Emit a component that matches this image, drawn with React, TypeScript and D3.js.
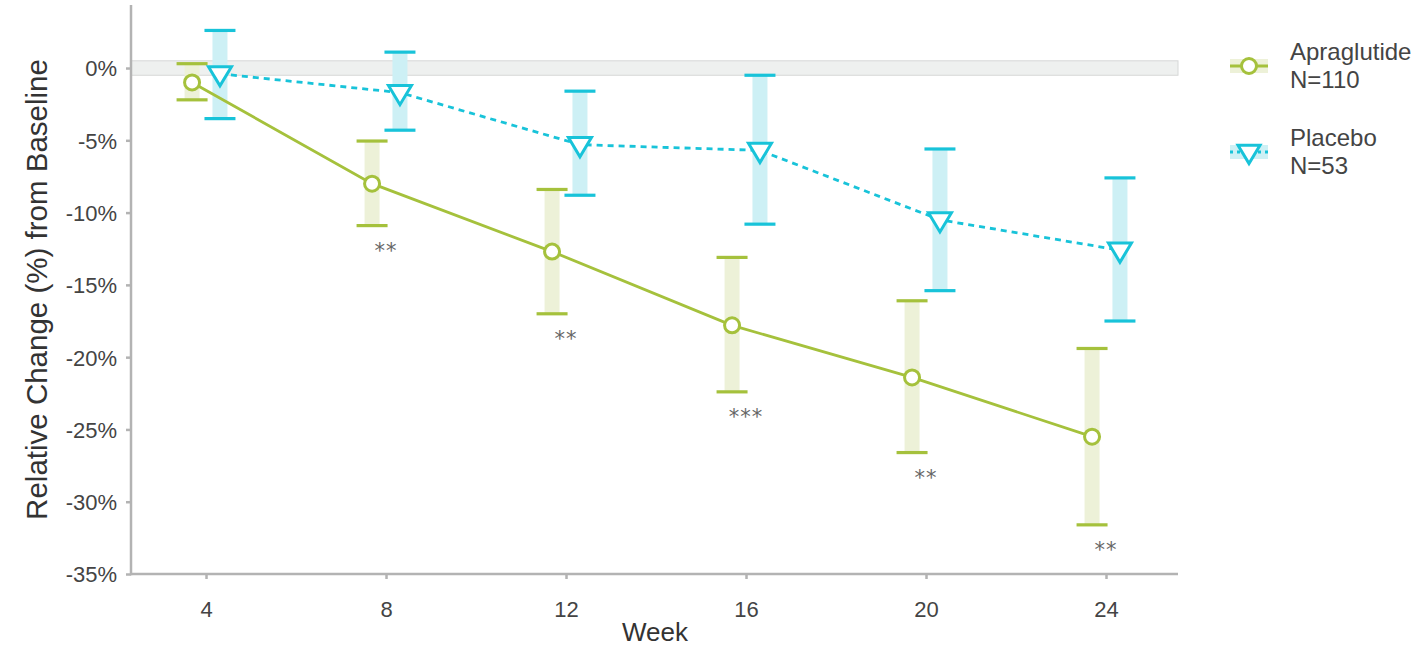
import React, { useEffect, useRef } from "react";
import * as d3 from "d3";

const weeks = [4, 8, 12, 16, 20, 24];
const apraMean = [-1.0, -8.0, -12.7, -17.8, -21.4, -25.5];
const apraHigh = [0.3, -5.05, -8.4, -13.1, -16.1, -19.4];
const apraLow = [-2.2, -10.9, -17.0, -22.4, -26.6, -31.6];
const placMean = [-0.4, -1.7, -5.3, -5.7, -10.5, -12.6];
const placHigh = [2.6, 1.1, -1.6, -0.5, -5.6, -7.6];
const placLow = [-3.5, -4.3, -8.8, -10.8, -15.4, -17.5];
const stars = ["", "**", "**", "***", "**", "**"];
const yTicks = [0, -5, -10, -15, -20, -25, -30, -35];

const GREEN = "#a5c13c";
const GREEN_FILL = "#edf1d8";
const CYAN = "#18c3d9";
const CYAN_FILL = "#cdf0f5";
const FONT = "'Liberation Sans', Arial, sans-serif";

export default function App() {
  const ref = useRef<SVGSVGElement>(null);

  useEffect(() => {
    const svg = d3.select(ref.current);
    svg.selectAll("*").remove();

    const left = 131, right = 1178, top = 5, bottom = 574;
    const x = d3.scaleLinear().domain([2.333, 25.6]).range([left, right]);
    const y = d3.scaleLinear().domain([-35, 4.36]).range([bottom, top]);
    const dodge = 0.31;

    // reference band around 0
    svg.append("rect")
      .attr("x", left).attr("y", y(0.5))
      .attr("width", right - left).attr("height", y(-0.5) - y(0.5))
      .attr("fill", "#eef0ef").attr("stroke", "#d6d8d7").attr("stroke-width", 1);

    const series = [
      { mean: apraMean, hi: apraHigh, lo: apraLow, off: -dodge, color: GREEN, fill: GREEN_FILL, dash: null, shape: "circle" },
      { mean: placMean, hi: placHigh, lo: placLow, off: dodge, color: CYAN, fill: CYAN_FILL, dash: "6,5", shape: "tri" },
    ];

    const tri = (cx: number, cy: number, s: number) =>
      `M${cx - s},${cy - s * 0.62} L${cx + s},${cy - s * 0.62} L${cx},${cy + s * 1.05} Z`;

    // error bars
    series.forEach((s) => {
      const g = svg.append("g");
      weeks.forEach((w, i) => {
        const cx = x(w + s.off);
        g.append("rect")
          .attr("x", cx - 7.5).attr("y", y(s.hi[i]))
          .attr("width", 15).attr("height", y(s.lo[i]) - y(s.hi[i]))
          .attr("fill", s.fill);
        [s.hi[i], s.lo[i]].forEach((v) => {
          g.append("line")
            .attr("x1", cx - 15.5).attr("x2", cx + 15.5)
            .attr("y1", y(v)).attr("y2", y(v))
            .attr("stroke", s.color).attr("stroke-width", 3.2);
        });
      });
    });

    // lines and markers
    series.forEach((s) => {
      const line = d3.line<number>()
        .x((_, i) => x(weeks[i] + s.off))
        .y((d) => y(d));
      const path = svg.append("path")
        .datum(s.mean)
        .attr("d", line)
        .attr("fill", "none")
        .attr("stroke", s.color)
        .attr("stroke-width", 2.8);
      if (s.dash) path.attr("stroke-dasharray", s.dash);

      s.mean.forEach((m, i) => {
        const cx = x(weeks[i] + s.off);
        if (s.shape === "circle") {
          svg.append("circle").attr("cx", cx).attr("cy", y(m)).attr("r", 7.5)
            .attr("fill", "white").attr("stroke", s.color).attr("stroke-width", 3);
        } else {
          svg.append("path").attr("d", tri(cx, y(m), 11.5))
            .attr("fill", "white").attr("stroke", s.color).attr("stroke-width", 3)
            .attr("stroke-linejoin", "miter");
        }
      });
    });

    // significance stars
    weeks.forEach((w, i) => {
      if (!stars[i]) return;
      svg.append("text")
        .attr("x", x(w)).attr("y", y(apraLow[i]) + 32)
        .attr("text-anchor", "middle")
        .attr("font-family", "'DejaVu Sans', sans-serif").attr("font-size", 21)
        .attr("letter-spacing", 1)
        .attr("fill", "#666")
        .text(stars[i]);
    });

    // axes
    const axisColor = "#b3b3b3";
    const yAxis = svg.append("g").attr("transform", `translate(${left},0)`)
      .call(d3.axisLeft(y).tickValues(yTicks).tickSize(5).tickFormat((d) => `${d}%`));
    const xAxis = svg.append("g").attr("transform", `translate(0,${bottom})`)
      .call(d3.axisBottom(x).tickValues(weeks).tickSize(5).tickFormat((d) => `${d}`));
    [yAxis, xAxis].forEach((a) => {
      a.select(".domain").remove();
      a.selectAll(".tick line").attr("stroke", axisColor).attr("stroke-width", 2.5);
      a.selectAll(".tick text").attr("fill", "#444").attr("font-size", 22).attr("font-family", FONT);
    });
    yAxis.selectAll(".tick text").attr("x", -14).attr("dy", "0.36em");
    xAxis.selectAll(".tick text").attr("y", 27);

    svg.append("line").attr("x1", left).attr("x2", left).attr("y1", top).attr("y2", bottom + 1.2)
      .attr("stroke", axisColor).attr("stroke-width", 2.5);
    svg.append("line").attr("x1", left).attr("x2", right).attr("y1", bottom).attr("y2", bottom)
      .attr("stroke", axisColor).attr("stroke-width", 2.5);

    // axis titles
    svg.append("text")
      .attr("transform", `translate(47,${(top + bottom) / 2}) rotate(-90)`)
      .attr("text-anchor", "middle")
      .attr("font-family", FONT).attr("font-size", 29.5).attr("fill", "#333")
      .text("Relative Change (%) from Baseline");
    svg.append("text")
      .attr("x", 655).attr("y", 641)
      .attr("text-anchor", "middle")
      .attr("font-family", FONT).attr("font-size", 26).attr("fill", "#333")
      .text("Week");

    // legend
    const legend = [
      { name: "Apraglutide", n: "N=110", color: GREEN, fill: GREEN_FILL, shape: "circle", dash: null, y: 66 },
      { name: "Placebo", n: "N=53", color: CYAN, fill: CYAN_FILL, shape: "tri", dash: "3,4", y: 152 },
    ];
    legend.forEach((l) => {
      const g = svg.append("g");
      const kx = 1249;
      g.append("rect").attr("x", kx - 19).attr("y", l.y - 7).attr("width", 38).attr("height", 14).attr("fill", l.fill);
      const ln = g.append("line").attr("x1", kx - 19).attr("x2", kx + 19).attr("y1", l.y).attr("y2", l.y)
        .attr("stroke", l.color).attr("stroke-width", 2.8);
      if (l.dash) ln.attr("stroke-dasharray", l.dash);
      if (l.shape === "circle") {
        g.append("circle").attr("cx", kx).attr("cy", l.y).attr("r", 7.5)
          .attr("fill", "white").attr("stroke", l.color).attr("stroke-width", 3);
      } else {
        g.append("path").attr("d", tri(kx, l.y, 11))
          .attr("fill", "white").attr("stroke", l.color).attr("stroke-width", 3);
      }
      g.append("text").attr("x", 1290).attr("y", l.y - 6)
        .attr("font-family", FONT).attr("font-size", 24).attr("fill", "#444").text(l.name);
      g.append("text").attr("x", 1290).attr("y", l.y + 22)
        .attr("font-family", FONT).attr("font-size", 24).attr("fill", "#444").text(l.n);
    });
  }, []);

  return (
    <svg ref={ref} width={1416} height={647} style={{ position: "absolute", left: 0, top: 0, background: "white" }} />
  );
}
